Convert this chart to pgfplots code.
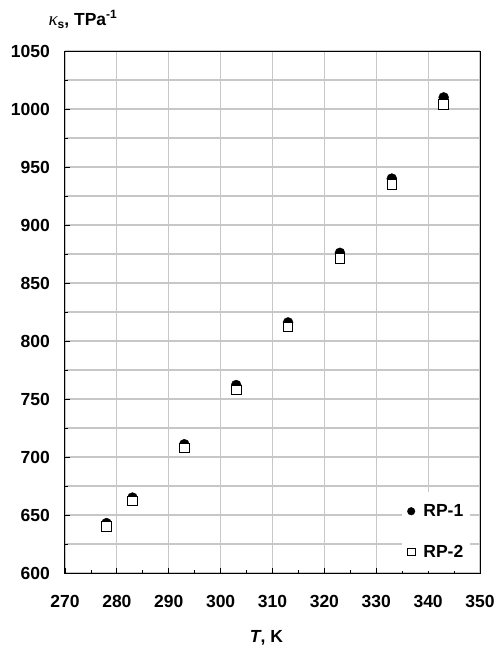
\documentclass[border=0pt]{standalone}
\usepackage{fontspec}
\setmainfont{Liberation Sans}
\newfontfamily\kappafont{Liberation Serif}
\usepackage{pgfplots}
\pgfplotsset{compat=1.18}
\newcommand{\lblfont}{\fontsize{17.5bp}{20bp}\selectfont\bfseries}
\pgfplotsset{
  common/.style={
    at={(0,0)}, anchor=south west,
    scale only axis, width=415bp, height=522bp,
    xmin=270, xmax=350, ymin=600, ymax=1050,
    xtick={270,280,...,350}, ytick={600,650,...,1050},
    minor xtick={275,285,...,345}, minor ytick={625,675,...,1025},
  }
}
\begin{document}
\begin{tikzpicture}
\path[use as bounding box] (-65bp,-73bp) rectangle (432bp,573bp);
% grid only
\begin{axis}[
  common,
  major tick length=0pt, minor tick length=0pt,
  xticklabels={}, yticklabels={},
  xmajorgrids=true, ymajorgrids=true, yminorgrids=true,
  grid style={black!22, line width=1.1bp},
  axis line style={draw=none},
]
\addplot[draw=none] coordinates {(270,600)};
\end{axis}
% data, ticks, labels
\begin{axis}[
  common,
  xtick pos=bottom, ytick pos=left,
  tick align=inside,
  major tick length=5bp, minor tick length=3.5bp,
  tick style={black, line width=0.8bp},
  axis line style={line width=1bp, black},
  tick label style={font=\lblfont},
  /pgf/number format/assume math mode=true,
  /pgf/number format/1000 sep={},
  yticklabel style={anchor=east, inner sep=0pt, xshift=-15bp},
  xticklabel style={anchor=north, inner sep=0pt, yshift=-22.5bp},
  ylabel={{\kappafont\mdseries\itshape\fontsize{19bp}{20bp}\selectfont κ}\raisebox{-2.5bp}{\fontsize{12bp}{12bp}\selectfont s}, TPa\raisebox{7.5bp}{\fontsize{12bp}{12bp}\selectfont -1}},
  every axis y label/.style={at={(axis description cs:-0.048,1.048)}, anchor=base west, font=\lblfont},
  xlabel={\textit{T}, K},
  every axis x label/.style={at={(axis description cs:0.4855,-0.1322)}, anchor=base, font=\lblfont},
  legend style={at={(0.977,0.004)}, anchor=south east, draw=none, fill=white,
    font=\lblfont, row sep=23bp, inner xsep=5bp, inner ysep=10bp},
  legend cell align=left,
  legend image code/.code={\draw[#1] plot coordinates {(0bp,0bp)}; \path (-4bp,0bp) (10bp,0bp);},
  legend image post style={mark size=3.8bp},
]
\addplot[only marks, mark=*, mark size=5bp, black] coordinates {
  (278,643) (283,665) (293,711) (303,762) (313,816) (323,876) (333,940) (343,1010)
};
\addlegendentry{RP-1}
\addplot[only marks, mark=square*, mark size=4.8bp, black, mark options={fill=white, draw=black, line width=0.8bp}] coordinates {
  (278,640) (283,662) (293,708) (303,758) (313,812) (323,871) (333,935) (343,1004)
};
\addlegendentry{RP-2}
\end{axis}
\end{tikzpicture}
\end{document}
